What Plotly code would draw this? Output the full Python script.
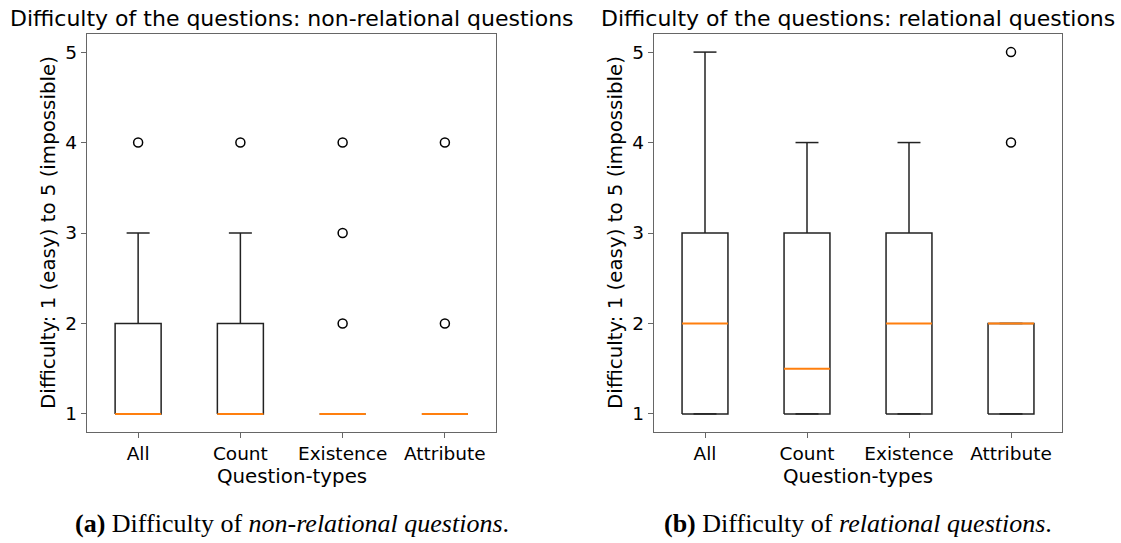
import plotly.graph_objects as go

# Question types shown on both panels
categories = ["All", "Count", "Existence", "Attribute"]
positions = [1, 2, 3, 4]
y_ticks = [1, 2, 3, 4, 5]

# Non-relational questions: box statistics per question type
nonrel_q1 = [1, 1, 1, 1]
nonrel_median = [1, 1, 1, 1]
nonrel_q3 = [2, 2, 1, 1]
nonrel_low = [1, 1, 1, 1]
nonrel_high = [3, 3, 1, 1]
nonrel_outliers = [[4], [4], [2, 3, 4], [2, 4]]

# Relational questions: box statistics per question type
rel_q1 = [1, 1, 1, 1]
rel_median = [2, 1.5, 2, 2]
rel_q3 = [3, 3, 3, 2]
rel_low = [1, 1, 1, 1]
rel_high = [5, 4, 4, 2]
rel_outliers = [[], [], [], [4, 5]]

BOX_W = 0.45          # box width in x units
CAP_W = BOX_W / 2     # whisker cap width
BOX_LINE = "#222222"
MEDIAN_COLOR = "#ff7f0e"
SPINE = "#666666"
FONT = "DejaVu Sans"

fig = go.Figure()


def add_panel(xref, yref, q1, med, q3, low, high, outliers):
    # box outlines, whiskers and caps as one black line trace
    bx, by = [], []
    for p, a, b, lo, hi in zip(positions, q1, q3, low, high):
        l, r = p - BOX_W / 2, p + BOX_W / 2
        bx += [l, r, r, l, l, None]
        by += [a, a, b, b, a, None]
        bx += [p, p, None, p, p, None]
        by += [lo, a, None, b, hi, None]
        bx += [p - CAP_W / 2, p + CAP_W / 2, None,
               p - CAP_W / 2, p + CAP_W / 2, None]
        by += [lo, lo, None, hi, hi, None]
    fig.add_trace(go.Scatter(
        x=bx, y=by, mode="lines",
        line=dict(color=BOX_LINE, width=1.5),
        showlegend=False, hoverinfo="skip", xaxis=xref, yaxis=yref,
    ))
    # orange medians on top
    mx, my = [], []
    for p, m in zip(positions, med):
        mx += [p - BOX_W / 2, p + BOX_W / 2, None]
        my += [m, m, None]
    fig.add_trace(go.Scatter(
        x=mx, y=my, mode="lines",
        line=dict(color=MEDIAN_COLOR, width=2),
        showlegend=False, hoverinfo="skip", xaxis=xref, yaxis=yref,
    ))
    # outliers as open circles
    ox, oy = [], []
    for p, vals in zip(positions, outliers):
        for v in vals:
            ox.append(p)
            oy.append(v)
    fig.add_trace(go.Scatter(
        x=ox, y=oy, mode="markers",
        marker=dict(symbol="circle-open", size=9, color="black",
                    line=dict(color="black", width=1.5)),
        showlegend=False, hoverinfo="skip", xaxis=xref, yaxis=yref,
    ))


add_panel("x", "y", nonrel_q1, nonrel_median, nonrel_q3, nonrel_low,
          nonrel_high, nonrel_outliers)
add_panel("x2", "y2", rel_q1, rel_median, rel_q3, rel_low,
          rel_high, rel_outliers)

W, H = 1121, 543
y_dom = [1 - 432 / H, 1 - 34 / H]
x1_dom = [87 / W, 496 / W]
x2_dom = [654 / W, 1062 / W]

axis_common = dict(
    showline=True, mirror=True, linecolor=SPINE, linewidth=1.3,
    ticks="outside", ticklen=5, tickcolor=SPINE, tickwidth=1.3,
    showgrid=False, zeroline=False,
    tickfont=dict(family=FONT, size=18.5, color="black"),
)
xaxis_common = dict(axis_common, range=[0.5, 4.5], tickvals=positions,
                    ticktext=categories)
yaxis_common = dict(axis_common, range=[0.8, 5.2], tickvals=y_ticks)

fig.update_layout(
    width=W, height=H,
    margin=dict(l=0, r=0, t=0, b=0),
    paper_bgcolor="white", plot_bgcolor="white",
    xaxis=dict(xaxis_common, domain=x1_dom, anchor="y"),
    yaxis=dict(yaxis_common, domain=y_dom, anchor="x"),
    xaxis2=dict(xaxis_common, domain=x2_dom, anchor="y2"),
    yaxis2=dict(yaxis_common, domain=y_dom, anchor="x2"),
)

titles = [
    "Difficulty of the questions: non-relational questions",
    "Difficulty of the questions: relational questions",
]
captions = [
    "<b>(a)</b> Difficulty of <i>non-relational questions</i>.",
    "<b>(b)</b> Difficulty of <i>relational questions</i>.",
]
annotations = []
for dom, title, cap in zip([x1_dom, x2_dom], titles, captions):
    cx = (dom[0] + dom[1]) / 2
    annotations.append(dict(
        text=title, x=cx, y=1 - 18 / H, xref="paper", yref="paper",
        xanchor="center", yanchor="middle", showarrow=False,
        font=dict(family=FONT, size=22, color="black")))
    annotations.append(dict(
        text="Question-types", x=cx, y=1 - 476 / H, xref="paper",
        yref="paper", xanchor="center", yanchor="middle", showarrow=False,
        font=dict(family=FONT, size=19.8, color="black")))
    annotations.append(dict(
        text="Difficulty: 1 (easy) to 5 (impossible)",
        x=dom[0] - 39 / W, y=(y_dom[0] + y_dom[1]) / 2, xref="paper",
        yref="paper", xanchor="center", yanchor="middle", textangle=-90,
        showarrow=False, font=dict(family=FONT, size=19.8, color="black")))
    annotations.append(dict(
        text=cap, x=cx, y=1 - 523 / H, xref="paper", yref="paper",
        xanchor="center", yanchor="middle", showarrow=False,
        font=dict(family="Liberation Serif", size=26, color="black")))
fig.update_layout(annotations=annotations)

fig.write_html("out.html")
